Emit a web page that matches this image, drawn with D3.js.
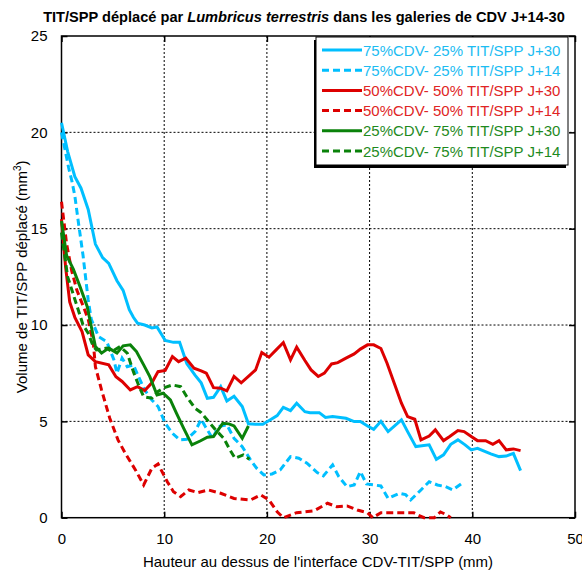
<!DOCTYPE html>
<html>
<head>
<meta charset="utf-8">
<script src="https://cdn.jsdelivr.net/npm/d3@7"></script>
<style>
  html, body { margin: 0; padding: 0; background: #fff; }
  svg { display: block; font-family: "Liberation Sans", Arial, sans-serif; }
</style>
</head>
<body>
<svg id="chart" width="582" height="571"></svg>
<script>
// Axis ticks
const xTicks = [0, 10, 20, 30, 40, 50];
const yTicks = [0, 5, 10, 15, 20, 25];

// Series: [height (mm), displaced volume (mm3)]
const cdv75J30 = [[0,20.5],[0.6,19.0],[1.3,17.7],[1.9,17.1],[2.6,16.0],[3.3,14.2],[4.0,13.5],[4.6,13.2],[5.4,12.3],[6.0,11.8],[6.6,10.8],[7.0,10.4],[7.4,10.1],[8.1,10.0],[8.8,9.85],[9.3,9.9],[10.1,9.2],[10.9,9.1],[11.5,9.1],[12.2,8.0],[13.0,7.4],[13.6,7.0],[14.2,6.2],[14.8,6.25],[15.5,6.8],[16.1,6.06],[16.8,6.3],[17.6,5.77],[18.2,4.87],[18.9,4.85],[19.6,4.85],[20.3,5.07],[21.0,5.3],[21.6,5.73],[22.3,5.56],[22.9,5.94],[23.7,5.5],[24.2,5.45],[25.1,5.45],[25.7,5.2],[26.4,5.25],[27.7,5.16],[28.5,4.99],[29.1,4.99],[29.8,4.76],[30.4,4.59],[31.1,5.0],[31.8,4.47],[33.1,5.08],[33.7,4.47],[34.5,3.69],[35.8,3.78],[36.5,3.03],[37.2,3.26],[37.9,3.81],[38.6,4.04],[39.3,3.78],[39.9,3.52],[40.5,3.6],[41.8,3.31],[42.6,3.17],[43.3,3.2],[44.0,3.34],[44.7,2.44]];

const cdv75J14 = [[0,20.0],[0.7,18.15],[1.0,17.5],[1.3,16.7],[1.6,15.5],[2.1,13.6],[2.6,11.3],[2.9,10.3],[3.6,9.4],[4.4,9.14],[5.1,8.2],[5.4,7.5],[5.9,8.28],[6.4,7.84],[7.0,7.93],[7.5,7.32],[8.1,6.63],[8.8,6.11],[9.4,5.77],[10.1,4.9],[10.8,4.38],[11.5,4.04],[12.2,4.07],[13.0,4.47],[13.6,5.1],[14.0,4.73],[14.7,4.12],[15.3,4.73],[16.1,4.82],[16.8,4.12],[17.6,3.69],[18.4,3.0],[19.0,2.57],[19.7,2.22],[20.5,2.27],[21.3,2.48],[22.3,3.17],[23.1,3.09],[23.9,2.83],[24.9,2.34],[25.5,2.17],[26.4,2.74],[27.0,2.13],[27.8,1.61],[28.5,1.7],[29.1,2.39],[29.7,1.75],[30.4,1.7],[31.1,1.65],[31.8,1.0],[32.9,1.27],[33.5,1.2],[34.0,0.92],[35.0,1.44],[35.8,1.87],[36.6,1.7],[37.4,1.61],[38.1,1.44],[39.2,1.87]];

const cdv50J30 = [[0,15.5],[0.4,13.0],[0.8,11.2],[1.3,10.4],[2.0,9.66],[2.6,8.45],[3.3,8.1],[4.6,7.93],[5.3,7.32],[5.9,7.07],[6.7,6.63],[7.4,6.8],[8.1,6.6],[8.8,7.0],[9.4,7.58],[10.1,7.64],[10.8,8.36],[11.4,8.1],[12.1,8.28],[12.9,7.76],[13.6,7.62],[14.1,7.5],[14.8,6.75],[15.5,6.72],[16.1,6.58],[16.8,7.33],[17.5,7.0],[18.2,7.33],[18.9,7.67],[19.5,8.57],[20.2,8.33],[20.9,8.71],[21.6,9.09],[22.3,8.19],[22.9,8.85],[23.7,8.16],[24.3,7.67],[25.0,7.33],[25.6,7.5],[26.3,7.98],[26.9,8.05],[27.7,8.28],[28.5,8.5],[29.1,8.75],[29.8,8.97],[30.4,8.97],[31.1,8.78],[31.7,8.02],[32.4,6.98],[33.1,5.94],[33.7,5.25],[34.4,5.11],[35.0,4.04],[35.8,4.24],[36.4,4.56],[37.2,4.0],[37.8,4.21],[38.6,4.52],[39.2,4.47],[39.9,4.21],[40.5,4.0],[41.3,4.0],[42.0,3.81],[42.6,4.0],[43.3,3.52],[44.0,3.57],[44.7,3.48]];

const cdv50J14 = [[0,16.4],[0.5,14.2],[1.0,12.8],[1.5,11.8],[2.1,11.0],[2.6,10.3],[3.1,9.06],[3.3,7.84],[3.9,6.63],[4.7,5.16],[5.5,4.04],[6.2,3.35],[7.2,2.48],[8.0,1.7],[8.8,2.57],[9.4,2.79],[10.3,1.87],[10.9,1.35],[11.6,1.09],[12.4,1.44],[13.3,1.3],[14.3,1.44],[15.5,1.27],[16.8,1.0],[18.4,0.92],[19.4,1.18],[20.2,0.92],[21.0,0.31],[21.6,0],[22.9,0.26],[24.6,0.36],[25.9,0.75],[26.8,0.57],[27.8,0.61],[28.8,0.4],[29.8,0.26],[30.3,0],[31.1,0.26],[34.3,0.26],[34.7,0.14],[35.3,0],[36.3,0],[36.9,0.3],[37.5,0.15],[37.9,0]];

const cdv25J30 = [[0,15.4],[0.5,13.6],[1.15,12.9],[1.8,12.0],[2.5,10.96],[2.9,9.92],[3.3,8.88],[3.9,8.54],[4.6,8.8],[5.4,8.54],[6.0,8.92],[6.7,8.97],[7.3,8.62],[8.0,7.93],[8.6,7.32],[9.3,6.37],[9.9,6.46],[10.6,6.11],[11.2,5.42],[11.9,4.64],[12.7,3.78],[13.5,3.98],[14.2,4.18],[14.8,4.21],[15.7,4.9],[16.3,4.87],[16.8,4.76],[17.6,4.12],[18.2,4.76]];

const cdv25J14 = [[0,14.8],[0.6,12.5],[1.5,11.0],[2.1,10.0],[2.6,9.58],[3.1,8.88],[3.4,8.71],[4.4,8.8],[4.9,8.62],[5.7,8.88],[6.4,8.54],[7.0,7.58],[7.5,6.89],[8.0,6.28],[8.8,6.2],[9.4,6.55],[10.1,6.77],[10.8,6.89],[11.6,6.8],[12.2,6.28],[13.0,5.68],[13.6,5.45],[14.2,5.07],[15.0,4.56],[15.8,4.12],[16.4,3.52],[16.9,3.09],[17.7,3.26],[18.3,3.03]];

const seriesLabels = [
  "75%CDV- 25% TIT/SPP J+30",
  "75%CDV- 25% TIT/SPP J+14",
  "50%CDV- 50% TIT/SPP J+30",
  "50%CDV- 50% TIT/SPP J+14",
  "25%CDV- 75% TIT/SPP J+30",
  "25%CDV- 75% TIT/SPP J+14"
];

const series = [
  { label: seriesLabels[0], data: cdv75J30, color: "#00bfff", text: "#1cbcf2", dashed: false },
  { label: seriesLabels[1], data: cdv75J14, color: "#00bfff", text: "#1cbcf2", dashed: true },
  { label: seriesLabels[2], data: cdv50J30, color: "#dd0000", text: "#e02424", dashed: false },
  { label: seriesLabels[3], data: cdv50J14, color: "#dd0000", text: "#e02424", dashed: true },
  { label: seriesLabels[4], data: cdv25J30, color: "#0a820a", text: "#1e8a1e", dashed: false },
  { label: seriesLabels[5], data: cdv25J14, color: "#0a820a", text: "#1e8a1e", dashed: true }
];

const svg = d3.select("#chart");
const pLeft = 61.5, pRight = 575, pTop = 36, pBottom = 517.7;

const x = d3.scaleLinear().domain([0, 50]).range([pLeft, pRight]);
const y = d3.scaleLinear().domain([0, 25]).range([pBottom, pTop]);

// Dotted grid
const grid = svg.append("g");
grid.selectAll("line.gx").data(xTicks.slice(1, -1)).join("line")
  .attr("x1", d => x(d)).attr("x2", d => x(d))
  .attr("y1", pTop).attr("y2", pBottom)
  .attr("stroke", "#000").attr("stroke-width", 1).attr("stroke-dasharray", "2,2");
grid.selectAll("line.gy").data(yTicks.slice(1, -1)).join("line")
  .attr("x1", pLeft).attr("x2", pRight)
  .attr("y1", d => y(d)).attr("y2", d => y(d))
  .attr("stroke", "#000").attr("stroke-width", 1).attr("stroke-dasharray", "2,2");

// Axes with inward ticks, mirrored on the opposite sides
const axStyle = g => {
  g.select(".domain").remove();
  g.selectAll(".tick line").attr("stroke", "#000").attr("stroke-width", 1.5);
  g.selectAll("text").attr("font-size", 15).attr("fill", "#000")
    .attr("font-family", "Liberation Sans, Arial, sans-serif");
};
svg.append("g").attr("transform", `translate(0,${pBottom})`)
  .call(d3.axisBottom(x).tickValues(xTicks).tickSize(-6).tickPadding(16))
  .call(axStyle);
svg.append("g").attr("transform", `translate(0,${pTop})`)
  .call(d3.axisTop(x).tickValues(xTicks).tickSize(-6).tickFormat(""))
  .call(axStyle);
svg.append("g").attr("transform", `translate(${pLeft},0)`)
  .call(d3.axisLeft(y).tickValues(yTicks).tickSize(-6).tickPadding(14))
  .call(axStyle);
svg.append("g").attr("transform", `translate(${pRight},0)`)
  .call(d3.axisRight(y).tickValues(yTicks).tickSize(-6).tickFormat(""))
  .call(axStyle);

// Plot frame
svg.append("rect")
  .attr("x", pLeft).attr("y", pTop)
  .attr("width", pRight - pLeft).attr("height", pBottom - pTop)
  .attr("fill", "none").attr("stroke", "#000").attr("stroke-width", 1.5);

// Series lines
const line = d3.line().x(d => x(d[0])).y(d => y(d[1]));
const plot = svg.append("g");
plot.selectAll("path").data(series).join("path")
  .attr("d", d => line(d.data))
  .attr("fill", "none")
  .attr("stroke", d => d.color)
  .attr("stroke-width", 3)
  .attr("stroke-linejoin", "miter")
  .attr("stroke-dasharray", d => d.dashed ? "7,4" : null);

// Legend
const lg = svg.append("g");
const lgX = 316, lgY = 37, lgW = 252, lgH = 128;
lg.append("rect").attr("x", lgX - 2).attr("y", lgY + 3).attr("width", lgW).attr("height", lgH)
  .attr("fill", "#000");
lg.append("rect").attr("x", lgX).attr("y", lgY).attr("width", lgW).attr("height", lgH)
  .attr("fill", "#fff").attr("stroke", "#000").attr("stroke-width", 1);
const rows = lg.selectAll("g.row").data(series).join("g")
  .attr("transform", (d, i) => `translate(0,${lgY + 13 + i * 20.2})`);
rows.append("line")
  .attr("x1", lgX + 6).attr("x2", lgX + 46).attr("y1", 0).attr("y2", 0)
  .attr("stroke", d => d.color).attr("stroke-width", 3)
  .attr("stroke-dasharray", d => d.dashed ? "7,4" : null);
rows.append("text")
  .attr("x", lgX + 47).attr("y", 5.5)
  .attr("font-size", 15).attr("fill", d => d.text)
  .text(d => d.label);

// Title
const title = svg.append("text")
  .attr("x", 304).attr("y", 22)
  .attr("text-anchor", "middle")
  .attr("font-size", 14.6).attr("font-weight", "bold");
title.append("tspan").text("TIT/SPP déplacé par ");
title.append("tspan").attr("font-style", "italic").text("Lumbricus terrestris");
title.append("tspan").text(" dans les galeries de CDV J+14-30");

// Axis titles
svg.append("text")
  .attr("x", 318).attr("y", 567)
  .attr("text-anchor", "middle").attr("font-size", 15)
  .text("Hauteur au dessus de l'interface CDV-TIT/SPP (mm)");

const yl = svg.append("text")
  .attr("transform", `translate(27,${(pTop + pBottom) / 2}) rotate(-90)`)
  .attr("text-anchor", "middle").attr("font-size", 15);
yl.append("tspan").text("Volume de TIT/SPP déplacé (mm");
yl.append("tspan").attr("font-size", 10).attr("dy", -6).text("3");
yl.append("tspan").attr("dy", 6).text(")");
</script>
</body>
</html>
